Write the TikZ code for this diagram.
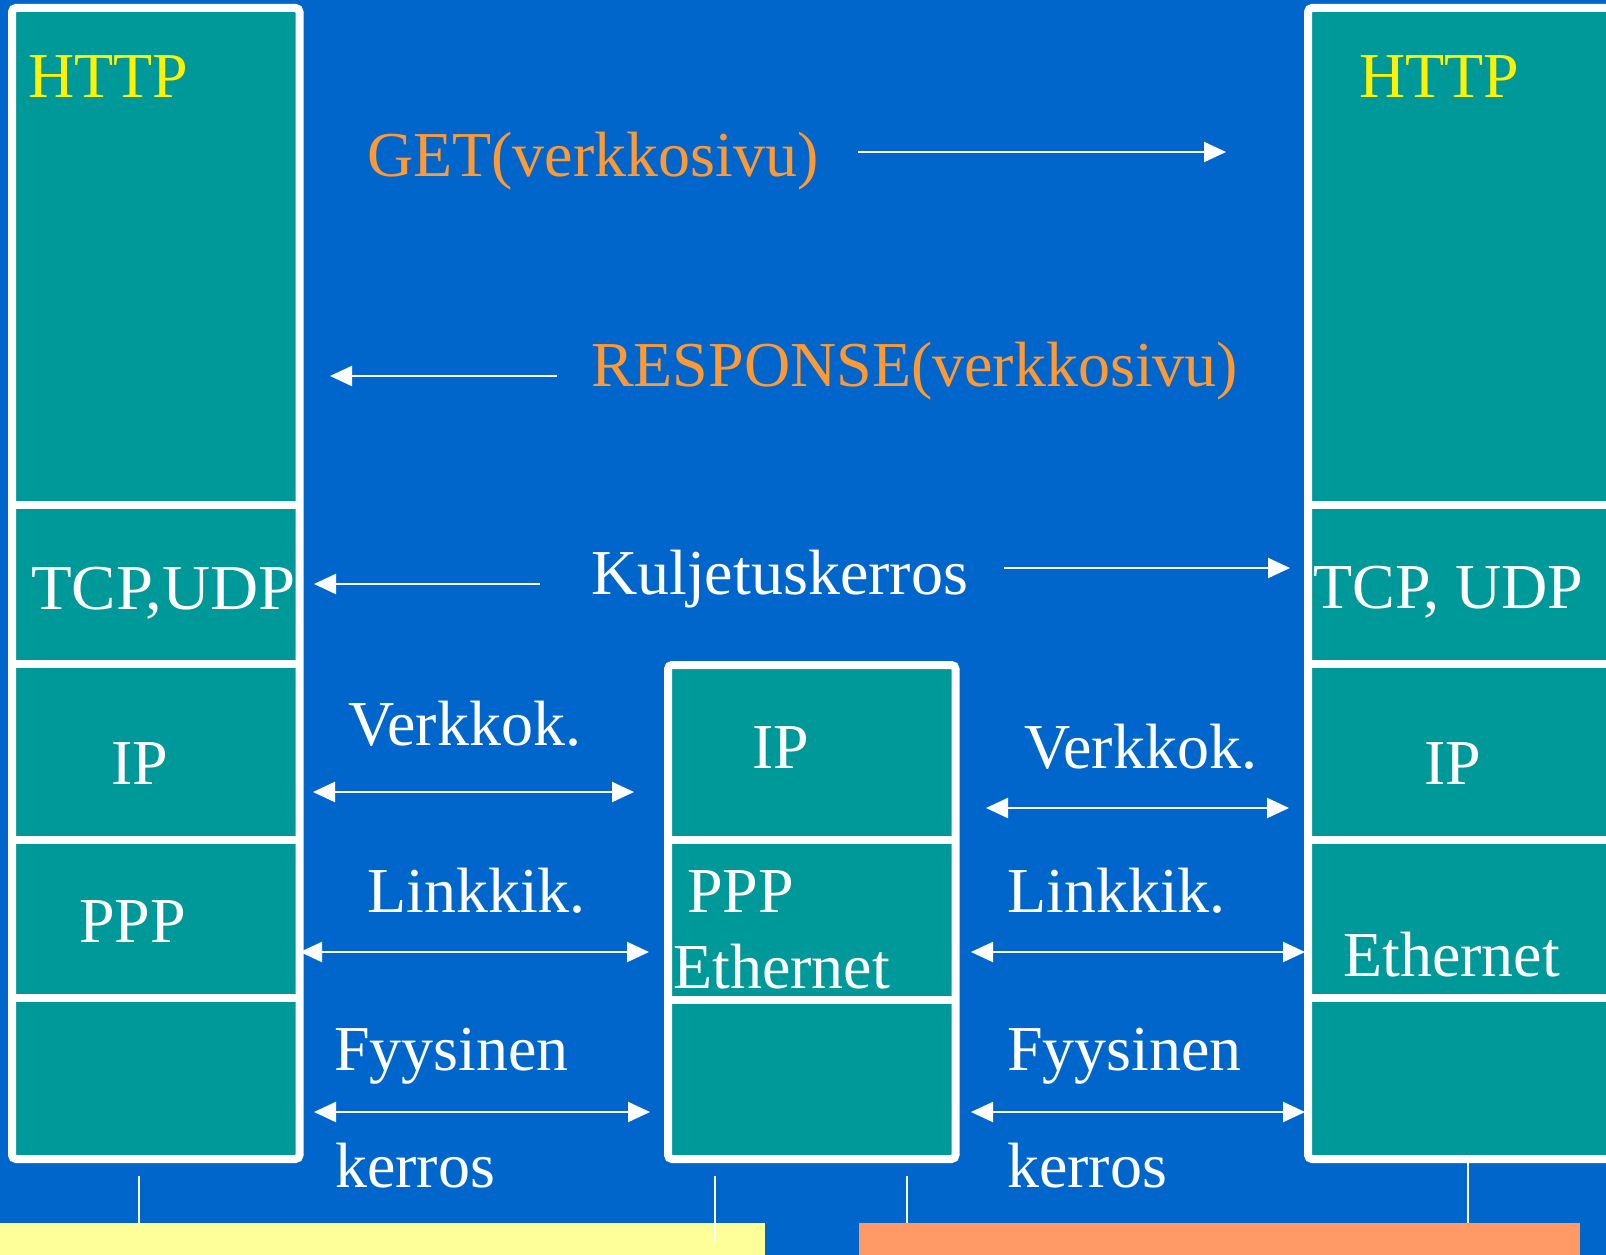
\documentclass[tikz,border=0pt]{standalone}
\usepackage{fontspec}
\setmainfont{Liberation Serif}
\usepackage{tikz}
\usetikzlibrary{arrows.meta}

\definecolor{slidebg}{HTML}{0066CC}
\definecolor{layerfill}{HTML}{009999}
\definecolor{msgorange}{HTML}{FF9933}
\definecolor{hostyellow}{HTML}{FFFF99}
\definecolor{netorange}{HTML}{FF9966}

\tikzset{
  stackframe/.style={draw=white, line width=8pt, fill=layerfill, rounded corners=4pt},
  divider/.style={white, line width=8pt},
  lbl/.style={anchor=base west, inner sep=0pt, text=white, font=\fontsize{64}{70}\selectfont},
  msg/.style={lbl, text=msgorange},
  proto/.style={lbl, text=yellow},
  arr/.style={white, line width=2pt, -{Triangle[length=22pt,width=20pt]}},
  darr/.style={white, line width=2pt, {Triangle[length=22pt,width=20pt]}-{Triangle[length=22pt,width=20pt]}},
  tick/.style={white, line width=1.5pt}
}

\begin{document}
\begin{tikzpicture}[x=1pt,y=-1pt]
      \useasboundingbox (0,0) rectangle (1606,1255);
      \clip (0,0) rectangle (1606,1255);
      \fill[slidebg] (0,0) rectangle (1606,1255);

      \draw[stackframe] (12,8) rectangle (299.5,1159);
      \foreach \y in {505,664,840,998} \draw[divider] (12,\y) -- (299.5,\y);
      \draw[stackframe] (668,665) rectangle (955.5,1159);
      \foreach \y in {840,1000} \draw[divider] (668,\y) -- (955.5,\y);
      \draw[stackframe] (1308,8) rectangle (1650,1159);
      \foreach \y in {505,664,840,998} \draw[divider] (1308,\y) -- (1650,\y);

      \fill[hostyellow] (0,1223) rectangle (765,1260);
      \fill[netorange] (859,1223) rectangle (1580,1260);
      \draw[tick] (139,1176) -- (139,1223);
      \draw[tick] (715,1176) -- (715,1241);
      \draw[tick] (907,1176) -- (907,1223);
      \draw[tick] (1468,1163) -- (1468,1223);

      \node[proto] (httpL) at (28,97) {HTTP};
      \node[proto] (httpR) at (1359,97) {HTTP};
      \node[msg] (get) at (367,176) {GET(verkkosivu)};
      \node[msg] (resp) at (591,386) {RESPONSE(verkkosivu)};
      \node[lbl] (kulj) at (591,594) {Kuljetuskerros};
      \node[lbl, xscale=1.04] (tcpL) at (31,609) {TCP,UDP};
      \node[lbl] (tcpR) at (1313,608) {TCP, UDP};
      \node[lbl] (ipL) at (111,784) {IP};
      \node[lbl] (ipM) at (752,768) {IP};
      \node[lbl] (ipR) at (1424,784) {IP};
      \node[lbl] (pppL) at (79,942) {PPP};
      \node[lbl] (pppM) at (687,912) {PPP};
      \node[lbl] (ethM) at (673,988) {Ethernet};
      \node[lbl] (ethR) at (1343,976) {Ethernet};
      \node[lbl] (verkL) at (348,745) {Verkkok.};
      \node[lbl] (verkR) at (1024,768) {Verkkok.};
      \node[lbl] (linkL) at (367,912) {Linkkik.};
      \node[lbl] (linkR) at (1007,912) {Linkkik.};
      \node[lbl] (fyyL) at (334,1070) {Fyysinen};
      \node[lbl] (fyyR) at (1007,1070) {Fyysinen};
      \node[lbl] (kerL) at (335,1187) {kerros};
      \node[lbl] (kerR) at (1007,1187) {kerros};

      \coordinate (getA) at (858,152);   \coordinate (getB) at (1226,152);
      \coordinate (respA) at (557,376);  \coordinate (respB) at (330,376);
      \coordinate (kulLA) at (540,584);  \coordinate (kulLB) at (314,584);
      \coordinate (kulRA) at (1004,568); \coordinate (kulRB) at (1290,568);
      \coordinate (verkLA) at (313,792); \coordinate (verkLB) at (634,792);
      \coordinate (verkRA) at (986,808); \coordinate (verkRB) at (1289,808);
      \coordinate (linkLA) at (300,952); \coordinate (linkLB) at (649,952);
      \coordinate (linkRA) at (971,952); \coordinate (linkRB) at (1305,952);
      \coordinate (fyyLA) at (314,1112); \coordinate (fyyLB) at (650,1112);
      \coordinate (fyyRA) at (971,1112); \coordinate (fyyRB) at (1305,1112);

      \draw[arr] (getA) -- (getB);
      \draw[arr] (respA) -- (respB);
      \draw[arr] (kulLA) -- (kulLB);
      \draw[arr] (kulRA) -- (kulRB);
      \draw[darr] (verkLA) -- (verkLB);
      \draw[darr] (verkRA) -- (verkRB);
      \draw[darr] (linkLA) -- (linkLB);
      \draw[darr] (linkRA) -- (linkRB);
      \draw[darr] (fyyLA) -- (fyyLB);
      \draw[darr] (fyyRA) -- (fyyRB);
    \end{tikzpicture}
\end{document}
